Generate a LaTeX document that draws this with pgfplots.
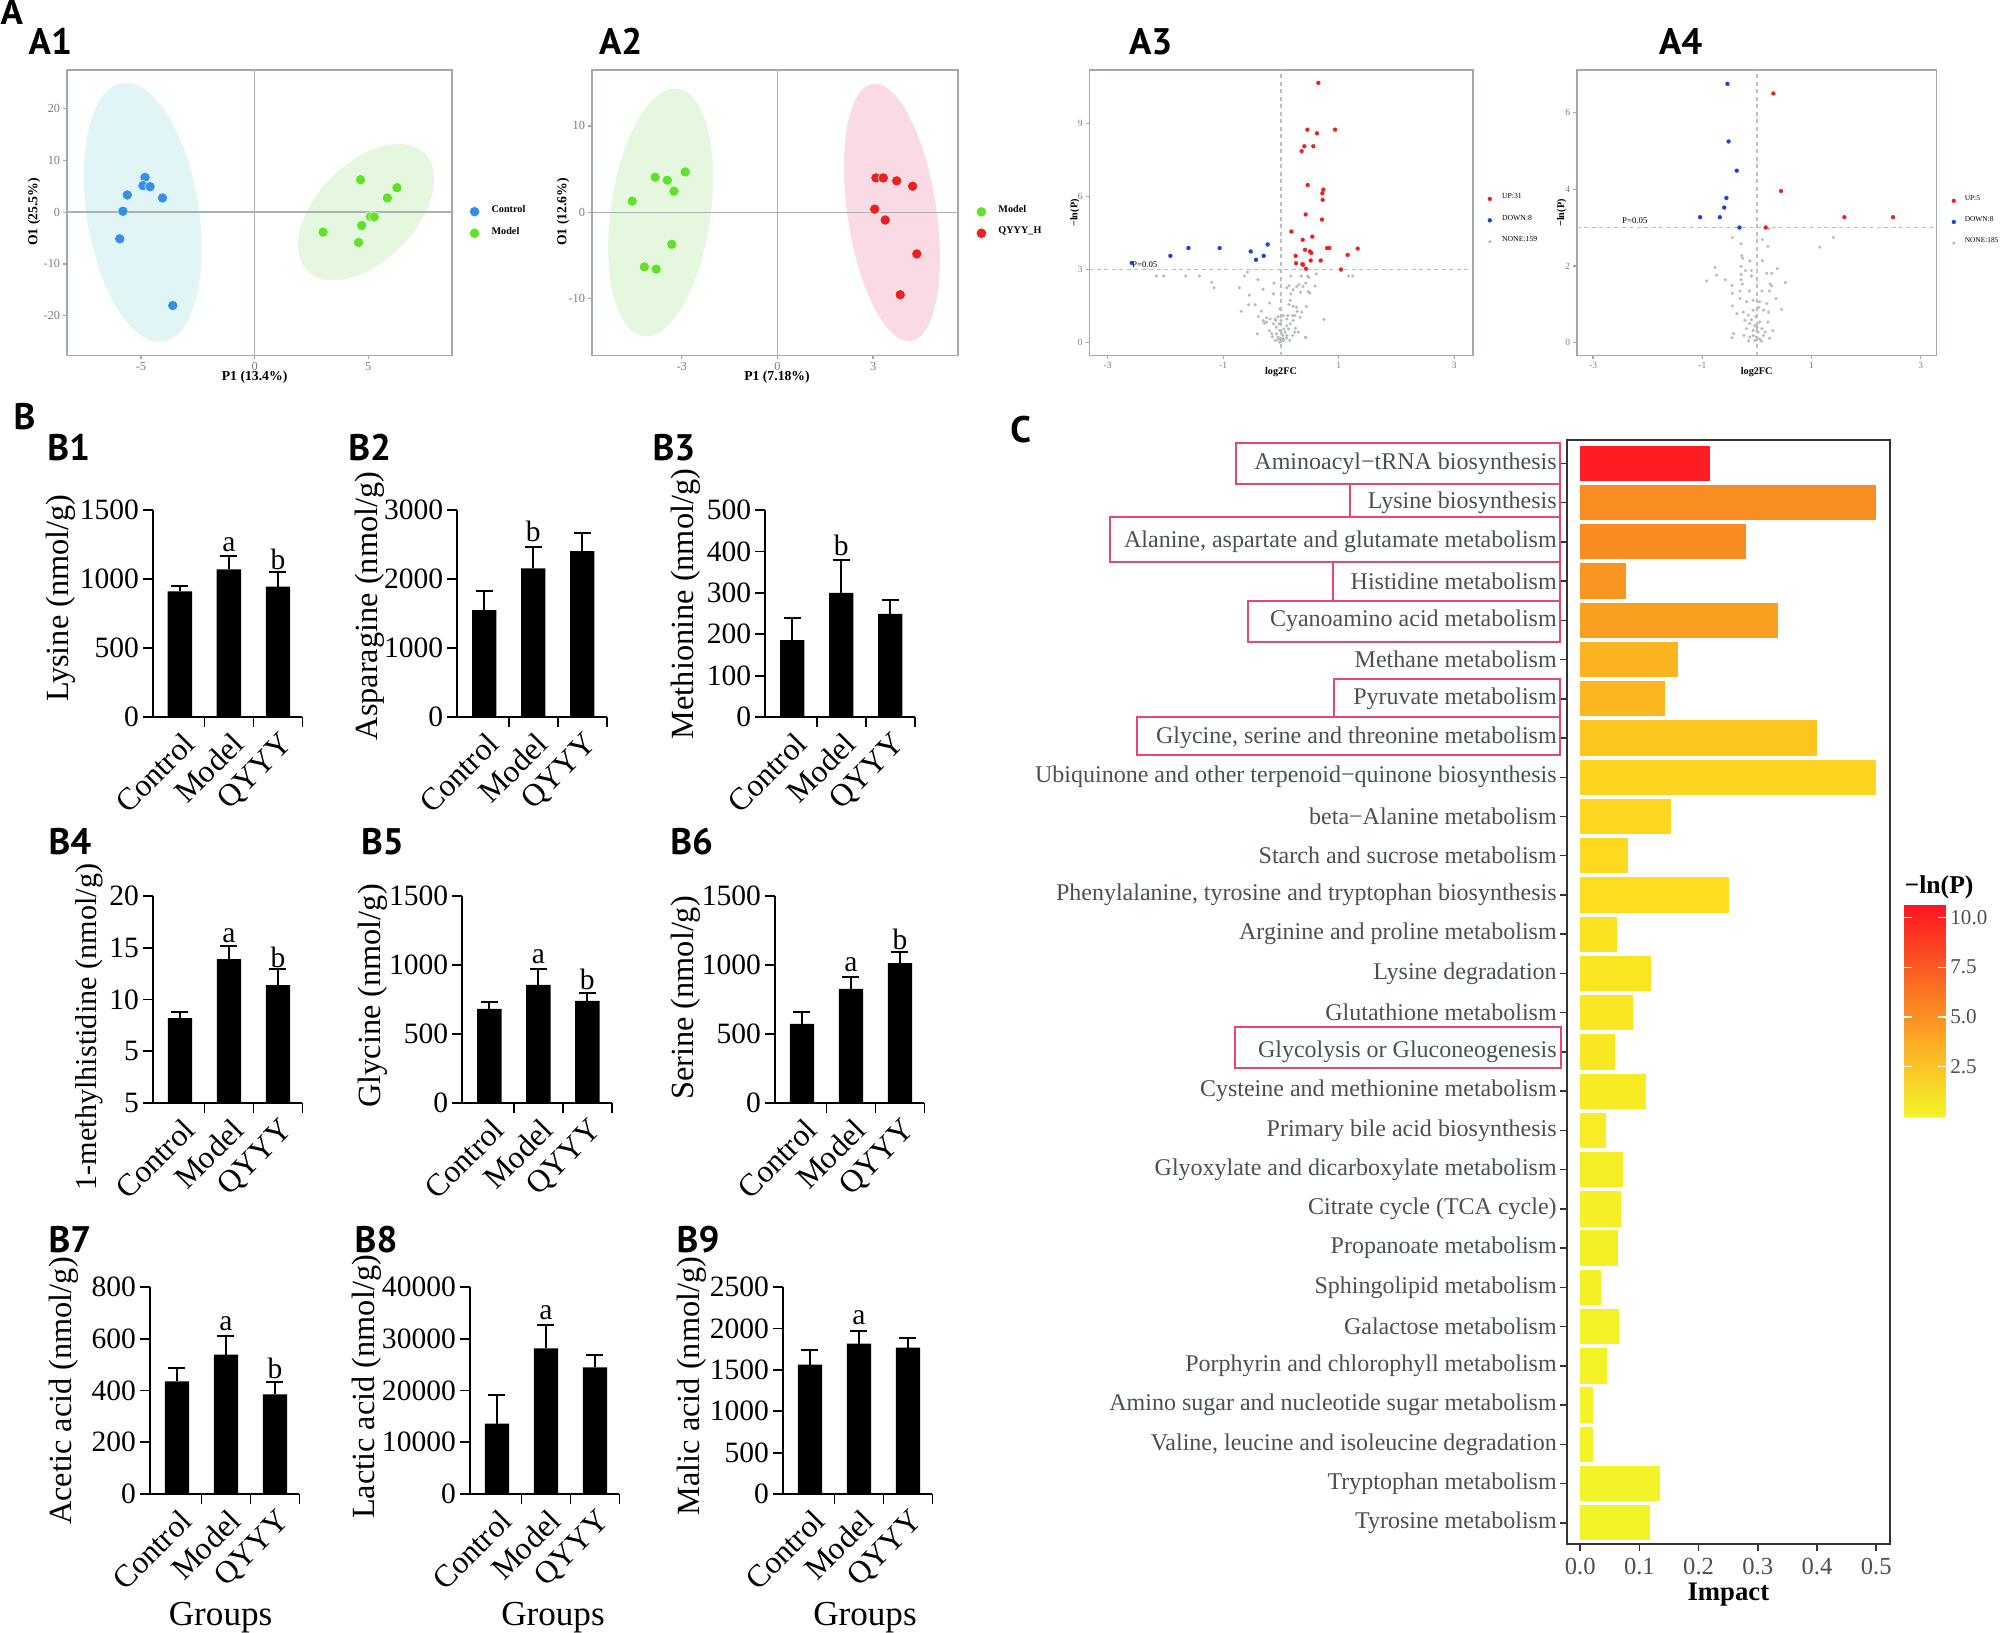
\documentclass[border=0pt]{standalone}
\usepackage{fontspec}
\setmainfont{Liberation Serif}
\newfontfamily\plfont{PT Sans}
\usepackage{pgfplots}
\pgfplotsset{compat=1.18}

\newcommand\fs[1]{\fontsize{#1}{#1}\selectfont}
\newcommand\plab[1]{{\plfont\bfseries\fs{10.5pt}#1}}

\definecolor{frgray}{RGB}{160,170,172}
\definecolor{tkgray}{RGB}{118,126,128}
\definecolor{zline}{RGB}{168,178,180}
\definecolor{dline}{RGB}{185,192,194}
\definecolor{ptblue}{RGB}{55,143,228}
\definecolor{ptgreen}{RGB}{96,226,42}
\definecolor{ptred}{RGB}{236,32,34}
\definecolor{vred}{RGB}{238,30,40}
\definecolor{vblue}{RGB}{28,62,232}
\definecolor{vgray}{RGB}{178,188,188}
\definecolor{elblue}{RGB}{226,245,246}
\definecolor{elgreen}{RGB}{229,248,223}
\definecolor{elpink}{RGB}{250,219,229}
\definecolor{cgray}{RGB}{72,80,80}
\definecolor{hlred}{RGB}{232,72,108}

\pgfplotsset{
  apanel/.style={
    scale only axis, height=28.55mm,
    axis line style={draw=frgray, line width=0.16mm},
    tick pos=left, tick align=outside,
    major tick length=0.35mm,
    tick style={draw=frgray, line width=0.12mm},
    ticklabel style={text=tkgray, inner sep=0.25mm},
    /pgf/number format/assume math mode=true,
    legend style={draw=none, fill=none, inner sep=0pt, anchor=west,
      nodes={inner sep=0pt}},
    legend cell align=left,
    legend image code/.code={\draw[##1] plot coordinates {(0mm,0mm)};},
  },
  bigpt/.style={only marks, mark=*, mark size=0.52mm,
    mark options={draw=white, line width=0.05mm, fill=#1}},
  vpt/.style={only marks, mark=*, mark size=0.2mm, color=#1,
    mark options={draw=#1, line width=0.02mm, fill=#1}},
  gpt/.style={only marks, mark=*, mark size=0.15mm, color=vgray,
    mark options={draw=vgray, line width=0.02mm, fill=vgray}},
  bpanel/.style={
    scale only axis, width=14.945mm, height=20.7mm,
    axis x line*=bottom, axis y line*=left,
    axis line style={line width=0.2mm, black},
    xmin=-0.55, xmax=2.5, ymin=0,
    xtick={0.5,1.5,2.5}, xticklabels={,,},
    extra x ticks={0,1,2}, extra x tick labels={Control,Model,QYYY},
    extra x tick style={major tick length=0pt},
    tick align=outside, major tick length=1mm,
    tick style={line width=0.18mm, black},
    xticklabel style={font=\fs{9pt}, inner sep=0pt, xshift=0.1mm, yshift=-1.3mm, rotate=45, anchor=north east},
    yticklabel style={font=\fs{8.4pt}, inner sep=0.35mm},
    /pgf/number format/assume math mode=true,
    /pgf/number format/1000 sep={},
    scaled y ticks=false,
    clip=false,
  },
  bbar/.style={ybar, bar width=2.44mm, bar shift=0pt, fill=black, draw=none,
    error bars/y dir=plus, error bars/y explicit,
    error bars/error bar style={draw=black, line width=0.2mm},
    error bars/error mark options={rotate=90, mark size=0.85mm, draw=black, line width=0.2mm}},
  cbar/.style={xbar, bar width=0.9, bar shift=0pt, draw=none},
}

\begin{document}
\begin{tikzpicture}
\path[use as bounding box] (0,0) rectangle (200.2mm,-163.3mm);

% ---------------- A1 ----------------
\begin{axis}[apanel, at={(6.68mm,-35.55mm)}, anchor=south west, width=38.5mm,
  xmin=-8.26, xmax=8.67, ymin=-27.7, ymax=27.5,
  xtick={-5,0,5}, ytick={-20,-10,0,10,20},
  ticklabel style={font=\fs{3.5pt}},
  legend style={at={(1.044,0.466)}, font=\bfseries\fs{2.9pt}, row sep=0.92mm,
    /tikz/every odd column/.append style={column sep=1.18mm}}]
\fill[elblue, rotate around={9:(axis cs:-4.92,0)}] (axis cs:-4.92,0) ellipse [x radius=5.6mm, y radius=13.1mm];
\fill[elgreen, rotate around={45:(axis cs:4.90,0)}] (axis cs:4.90,0) ellipse [x radius=8.3mm, y radius=4.9mm];
\draw[zline, line width=0.16mm] (axis cs:0,-27.7) -- (axis cs:0,27.5);
\draw[zline, line width=0.16mm] (axis cs:-8.26,0) -- (axis cs:8.67,0);
\addplot[bigpt=ptblue] coordinates {(-4.82,6.74) (-4.91,5.14) (-4.60,4.94) (-5.60,3.34) (-4.05,2.76) (-5.79,0.19) (-5.93,-5.14) (-3.60,-18.04)};
\addlegendentry{Control}
\addplot[bigpt=ptgreen] coordinates {(4.66,6.29) (6.26,4.75) (5.84,2.76) (5.10,-0.83) (5.26,-0.90) (4.71,-2.57) (3.01,-3.85) (4.57,-5.84)};
\addlegendentry{Model}
\end{axis}

% ---------------- A2 ----------------
\begin{axis}[apanel, at={(59.17mm,-35.55mm)}, anchor=south west, width=36.66mm,
  xmin=-5.82, xmax=5.67, ymin=-16.55, ymax=16.47,
  xtick={-3,0,3}, ytick={-10,0,10},
  ticklabel style={font=\fs{3.5pt}},
  legend style={at={(1.047,0.466)}, font=\bfseries\fs{2.9pt}, row sep=0.92mm,
    /tikz/every odd column/.append style={column sep=1.18mm}}]
\fill[elgreen, rotate around={-8:(axis cs:-3.66,0)}] (axis cs:-3.66,0) ellipse [x radius=5.0mm, y radius=12.5mm];
\fill[elpink, rotate around={8.5:(axis cs:3.59,0)}] (axis cs:3.59,0) ellipse [x radius=4.45mm, y radius=13.0mm];
\draw[zline, line width=0.16mm] (axis cs:0,-16.55) -- (axis cs:0,16.47);
\draw[zline, line width=0.16mm] (axis cs:-5.82,0) -- (axis cs:5.67,0);
\addplot[bigpt=ptgreen] coordinates {(-4.55,1.31) (-3.83,4.07) (-3.45,3.72) (-3.24,2.46) (-2.89,4.68) (-3.31,-3.69) (-4.17,-6.30) (-3.80,-6.56)};
\addlegendentry{Model}
\addplot[bigpt=ptred] coordinates {(3.09,3.99) (3.32,3.99) (3.74,3.65) (4.24,3.03) (3.05,0.38) (3.38,-0.88) (4.37,-4.80) (3.85,-9.52)};
\addlegendentry{QYYY\_H}
\end{axis}

% ---------------- A3 ----------------
\begin{axis}[apanel, at={(108.93mm,-35.55mm)}, anchor=south west, width=38.34mm,
  xmin=-3.32, xmax=3.32, ymin=-0.52, ymax=11.2,
  xtick={-3,-1,1,3}, ytick={0,3,6,9},
  ticklabel style={font=\fs{2.7pt}},
  reverse legend,
  legend style={at={(1.0376,0.4736)}, font=\fs{2.2pt}, row sep=1.1mm,
    /tikz/every odd column/.append style={column sep=1.02mm}}]
\draw[dline, line width=0.12mm, dash pattern=on 0.4mm off 0.35mm] (axis cs:0,-0.52) -- (axis cs:0,11.2);
\draw[dline, line width=0.12mm, dash pattern=on 0.4mm off 0.35mm] (axis cs:-3.32,3) -- (axis cs:3.32,3);
\addplot[gpt] coordinates {(-2.16,2.74) (-2.03,2.74) (-1.65,2.74) (-1.41,2.74) (-0.63,2.74) (-0.58,2.90) (0.17,2.74) (0.35,2.74) (0.46,2.74) (0.61,2.83) (1.17,2.74) (1.24,2.74) (-1.20,2.49) (-1.16,2.26) (-0.72,2.26) (-0.55,1.96) (-0.45,1.56) (-0.56,1.56) (-0.69,1.29) (-0.40,2.59) (-0.31,2.20) (-0.12,2.45) (-0.20,1.63) (-0.34,1.30) (-0.39,1.08) (-0.41,0.37) (-0.29,0.81) (-0.25,1.03) (-0.13,2.01) (-0.02,1.40) (0.10,2.26) (0.14,2.35) (0.17,2.01) (0.21,2.18) (0.27,2.31) (0.31,2.39) (0.34,2.08) (0.38,2.31) (0.43,2.45) (0.47,2.11) (0.50,2.04) (0.59,2.33) (0.44,1.49) (0.48,2.69) (0.16,1.74) (0.14,1.57) (0.21,1.50) (0.27,1.46) (0.24,1.12) (0.28,1.29) (0.12,1.12) (0.04,1.12) (-0.05,1.08) (-0.10,0.98) (-0.19,0.98) (-0.25,0.85) (-0.31,0.92) (-0.13,0.78) (-0.08,0.64) (-0.02,0.51) (0.01,0.37) (-0.05,0.23) (-0.10,0.10) (-0.02,0.03) (0.04,0.16) (0.10,0.30) (0.07,0.44) (0.13,0.57) (0.16,0.78) (0.21,0.92) (0.24,0.44) (0.30,0.44) (0.43,0.21) (0.74,0.96) (-0.16,0.37) (-0.08,0.37) (-0.01,0.16) (0.03,0.30) (0.05,0.57) (-0.03,0.78) (-0.09,0.92) (0.00,0.92) (0.10,0.98) (0.20,1.12) (0.33,1.05) (0.36,1.26) (0.42,0.23) (0.00,0.05) (0.05,0.10) (-0.05,0.15) (0.10,0.20) (0.15,0.10) (-0.15,0.25) (0.20,0.30) (-0.20,0.50) (0.25,0.60) (0.10,0.70)};
\addlegendentry{NONE:159}
\addplot[vpt=vblue] coordinates {(-2.585,3.28) (-1.916,3.57) (-1.604,3.89) (-1.062,3.89) (-0.525,3.75) (-0.433,3.41) (-0.300,3.57) (-0.231,4.04)};
\addlegendentry{DOWN:8}
\addplot[vpt=vred] coordinates {(0.646,10.67) (0.456,8.75) (0.935,8.75) (0.623,8.60) (0.404,8.07) (0.560,8.07) (0.358,7.87) (0.462,6.48) (0.733,6.29) (0.716,6.14) (0.721,5.87) (0.427,5.27) (0.710,5.06) (0.179,4.57) (0.375,4.23) (0.542,4.36) (0.415,3.82) (0.502,3.75) (0.525,3.69) (0.796,3.89) (0.837,3.89) (1.327,3.87) (1.154,3.61) (0.254,3.57) (0.687,3.38) (0.514,3.38) (0.260,3.27) (0.369,3.23) (0.381,3.20) (0.433,3.04) (1.039,3.01)};
\addlegendentry{UP:31}
\node[anchor=west, inner sep=0pt, font=\fs{2.5pt}] at (axis cs:-2.59,3.2) {P=0.05};
\end{axis}

% ---------------- A4 ----------------
\begin{axis}[apanel, at={(157.67mm,-35.55mm)}, anchor=south west, width=36.0mm,
  xmin=-3.30, xmax=3.29, ymin=-0.33, ymax=7.1,
  xtick={-3,-1,1,3}, ytick={0,2,4,6},
  ticklabel style={font=\fs{2.7pt}},
  reverse legend,
  legend style={at={(1.040,0.4676)}, font=\fs{2.1pt}, row sep=1.1mm,
    /tikz/every odd column/.append style={column sep=0.9mm}}]
\draw[dline, line width=0.12mm, dash pattern=on 0.4mm off 0.35mm] (axis cs:0,-0.33) -- (axis cs:0,7.1);
\draw[dline, line width=0.12mm, dash pattern=on 0.4mm off 0.35mm] (axis cs:-3.30,3) -- (axis cs:3.29,3);
\addplot[gpt] coordinates {(-0.45,2.74) (0.10,2.69) (0.20,2.51) (-0.29,2.58) (-0.28,2.27) (-0.26,2.20) (-0.13,2.13) (0.10,2.14) (-0.77,1.96) (-0.74,1.76) (-0.92,1.61) (-0.58,1.64) (-0.29,1.99) (-0.21,1.88) (-0.10,1.88) (-0.10,1.74) (0.18,1.81) (0.27,1.81) (0.37,1.93) (-0.29,1.78) (-0.29,1.64) (-0.27,1.53) (0.24,1.53) (0.27,1.48) (0.52,1.57) (-0.46,1.49) (-0.45,1.29) (-0.31,1.35) (-0.14,1.35) (0.09,1.35) (0.23,1.35) (0.35,1.15) (-0.45,0.96) (-0.31,1.15) (-0.19,1.07) (-0.07,1.11) (0.05,1.07) (0.18,1.02) (0.45,0.87) (-0.37,0.76) (-0.25,0.80) (-0.16,0.72) (-0.07,0.85) (0.12,0.85) (0.21,0.80) (-0.22,0.59) (-0.13,0.50) (-0.04,0.45) (0.05,0.54) (0.20,0.54) (-0.19,0.37) (-0.07,0.32) (0.02,0.28) (0.09,0.37) (-0.07,0.19) (-0.01,0.15) (0.05,0.10) (-0.04,0.06) (0.12,0.19) (0.23,0.12) (0.29,0.32) (-0.43,0.24) (-0.46,0.13) (-0.13,0.15) (-0.24,0.19) (1.40,2.74) (1.15,2.49) (0.22,2.97) (-0.10,0.60) (0.00,0.40) (0.08,0.05) (-0.15,0.05) (0.15,0.28) (-0.02,0.68) (0.03,0.92)};
\addlegendentry{NONE:185}
\addplot[vpt=vblue] coordinates {(-0.54,6.74) (-0.52,5.24) (-0.37,4.48) (-0.56,3.77) (-0.60,3.52) (-1.04,3.27) (-0.68,3.27) (-0.32,3.00)};
\addlegendentry{DOWN:8}
\addplot[vpt=vred] coordinates {(0.30,6.49) (0.44,3.95) (1.60,3.27) (2.49,3.27) (0.16,3.00)};
\addlegendentry{UP:5}
\node[anchor=west, inner sep=0pt, font=\fs{2.5pt}] at (axis cs:-2.48,3.17) {P=0.05};
\end{axis}

% A labels and axis titles
\node[anchor=base west, inner sep=0pt] at (0mm,-2.45mm) {\plab{A}};
\node[anchor=base west, inner sep=0pt] at (2.8mm,-5.4mm) {\plab{A1}};
\node[anchor=base west, inner sep=0pt] at (59.83mm,-5.4mm) {\plab{A2}};
\node[anchor=base west, inner sep=0pt] at (112.83mm,-5.4mm) {\plab{A3}};
\node[anchor=base west, inner sep=0pt] at (165.83mm,-5.4mm) {\plab{A4}};
\node[font=\bfseries\fs{3.9pt}] at (25.46mm,-37.67mm) {P1 (13.4\%)};
\node[font=\bfseries\fs{3.9pt}, rotate=90] at (3.4mm,-21.2mm) {O1 (25.5\%)};
\node[font=\bfseries\fs{3.9pt}] at (77.7mm,-37.7mm) {P1 (7.18\%)};
\node[font=\bfseries\fs{3.9pt}, rotate=90] at (56.3mm,-21.2mm) {O1 (12.6\%)};
\node[font=\bfseries\fs{2.9pt}] at (128.1mm,-37.2mm) {log2FC};
\node[font=\bfseries\fs{2.9pt}, rotate=90] at (107.5mm,-21.3mm) {−ln(P)};
\node[font=\bfseries\fs{2.9pt}] at (175.67mm,-37.2mm) {log2FC};
\node[font=\bfseries\fs{2.9pt}, rotate=90] at (156.17mm,-21.3mm) {−ln(P)};

% ---------------- B row 1 ----------------
\begin{axis}[bpanel, at={(15.3mm,-71.7mm)}, anchor=south west, ymax=1500, ytick={0,500,1000,1500}]
\addplot[bbar] coordinates {(0,910) +- (0,40) (1,1070) +- (0,95) (2,945) +- (0,105)};
\node[font=\fs{8.4pt}] at (axis cs:1,1246) {a};
\node[font=\fs{8.4pt}] at (axis cs:2,1142) {b};
\end{axis}
\begin{axis}[bpanel, at={(45.73mm,-71.7mm)}, anchor=south west, ymax=3000, ytick={0,1000,2000,3000}]
\addplot[bbar] coordinates {(0,1550) +- (0,280) (1,2155) +- (0,315) (2,2405) +- (0,265)};
\node[font=\fs{8.4pt}] at (axis cs:1,2686) {b};
\end{axis}
\begin{axis}[bpanel, at={(76.53mm,-71.7mm)}, anchor=south west, ymax=500, ytick={0,100,200,300,400,500}]
\addplot[bbar] coordinates {(0,186) +- (0,52) (1,300) +- (0,80) (2,249) +- (0,34)};
\node[font=\fs{8.4pt}] at (axis cs:1,415) {b};
\end{axis}

% ---------------- B row 2 ----------------
\begin{axis}[bpanel, at={(15.3mm,-110.3mm)}, anchor=south west, ymax=20, ytick={0,5,10,15,20}, yticklabels={5,5,10,15,20}]
\addplot[bbar] coordinates {(0,8.2) +- (0,0.55) (1,13.9) +- (0,1.3) (2,11.4) +- (0,1.55)};
\node[font=\fs{8.4pt}] at (axis cs:1,16.2) {a};
\node[font=\fs{8.4pt}] at (axis cs:2,14.1) {b};
\end{axis}
\begin{axis}[bpanel, at={(46.24mm,-110.3mm)}, anchor=south west, ymax=1500, ytick={0,500,1000,1500}]
\addplot[bbar] coordinates {(0,682) +- (0,49) (1,856) +- (0,113) (2,740) +- (0,56)};
\node[font=\fs{8.4pt}] at (axis cs:1,1061) {a};
\node[font=\fs{8.4pt}] at (axis cs:2,897) {b};
\end{axis}
\begin{axis}[bpanel, at={(77.5mm,-110.3mm)}, anchor=south west, ymax=1500, ytick={0,500,1000,1500}]
\addplot[bbar] coordinates {(0,574) +- (0,88) (1,827) +- (0,85) (2,1013) +- (0,79)};
\node[font=\fs{8.4pt}] at (axis cs:1,1001) {a};
\node[font=\fs{8.4pt}] at (axis cs:2,1182) {b};
\end{axis}

% ---------------- B row 3 ----------------
\begin{axis}[bpanel, at={(15.0mm,-149.4mm)}, anchor=south west, ymax=800, ytick={0,200,400,600,800}]
\addplot[bbar] coordinates {(0,435) +- (0,52) (1,539) +- (0,72) (2,385) +- (0,46)};
\node[font=\fs{8.4pt}] at (axis cs:1,659) {a};
\node[font=\fs{8.4pt}] at (axis cs:2,484) {b};
\end{axis}
\begin{axis}[bpanel, at={(47.0mm,-149.4mm)}, anchor=south west, ymax=40000, ytick={0,10000,20000,30000,40000}]
\addplot[bbar] coordinates {(0,13600) +- (0,5450) (1,28150) +- (0,4500) (2,24450) +- (0,2500)};
\node[font=\fs{8.4pt}] at (axis cs:1,35070) {a};
\end{axis}
\begin{axis}[bpanel, at={(78.3mm,-149.4mm)}, anchor=south west, ymax=2500, ytick={0,500,1000,1500,2000,2500}]
\addplot[bbar] coordinates {(0,1564) +- (0,176) (1,1816) +- (0,152) (2,1768) +- (0,120)};
\node[font=\fs{8.4pt}] at (axis cs:1,2132) {a};
\end{axis}

% B labels
\node[anchor=base west, inner sep=0pt] at (1.3mm,-42.9mm) {\plab{B}};
\node[anchor=base west, inner sep=0pt] at (4.67mm,-46.0mm) {\plab{B1}};
\node[anchor=base west, inner sep=0pt] at (34.76mm,-46.0mm) {\plab{B2}};
\node[anchor=base west, inner sep=0pt] at (65.18mm,-46.0mm) {\plab{B3}};
\node[anchor=base west, inner sep=0pt] at (4.78mm,-85.4mm) {\plab{B4}};
\node[anchor=base west, inner sep=0pt] at (36.03mm,-85.4mm) {\plab{B5}};
\node[anchor=base west, inner sep=0pt] at (66.96mm,-85.4mm) {\plab{B6}};
\node[anchor=base west, inner sep=0pt] at (4.78mm,-125.2mm) {\plab{B7}};
\node[anchor=base west, inner sep=0pt] at (35.4mm,-125.2mm) {\plab{B8}};
\node[anchor=base west, inner sep=0pt] at (67.6mm,-125.2mm) {\plab{B9}};
\begin{scope}[every node/.style={rotate=90, font=\fs{9.2pt}, inner sep=0pt}]
\node at (6.06mm,-59.8mm) {Lysine (nmol/g)};
\node at (37.0mm,-60.6mm) {Asparagine (nmol/g)};
\node at (68.56mm,-60.4mm) {Methionine (nmol/g)};
\node[font=\fs{8.6pt}] at (8.9mm,-102.7mm) {1-methylhistidine (nmol/g)};
\node at (37.3mm,-99.6mm) {Glycine (nmol/g)};
\node at (68.56mm,-99.8mm) {Serine (nmol/g)};
\node at (6.4mm,-139.1mm) {Acetic acid (nmol/g)};
\node at (36.7mm,-138.7mm) {Lactic acid (nmol/g)};
\node at (69.2mm,-138.6mm) {Malic acid (nmol/g)};
\end{scope}
\node[anchor=base, font=\fs{10pt}] at (22.06mm,-162.5mm) {Groups};
\node[anchor=base, font=\fs{10pt}] at (55.3mm,-162.5mm) {Groups};
\node[anchor=base, font=\fs{10pt}] at (86.5mm,-162.5mm) {Groups};

% ---------------- C ----------------
\begin{axis}[at={(156.68mm,-154.42mm)}, anchor=south west,
  scale only axis, width=32.32mm, height=110.47mm,
  xmin=-0.0226, xmax=0.5233, ymin=-0.545, ymax=27.607,
  axis line style={draw=black!80, line width=0.2mm},
  tick pos=left, tick align=outside, major tick length=0.64mm,
  tick style={draw=black!80, line width=0.15mm},
  xtick={0,0.1,0.2,0.3,0.4,0.5},
  xticklabels={0.0,0.1,0.2,0.3,0.4,0.5},
  ytick={0,...,27},
  yticklabels={Tyrosine metabolism, Tryptophan metabolism, {Valine, leucine and isoleucine degradation}, Amino sugar and nucleotide sugar metabolism, Porphyrin and chlorophyll metabolism, Galactose metabolism, Sphingolipid metabolism, Propanoate metabolism, Citrate cycle (TCA cycle), Glyoxylate and dicarboxylate metabolism, Primary bile acid biosynthesis, Cysteine and methionine metabolism, Glycolysis or Gluconeogenesis, Glutathione metabolism, Lysine degradation, Arginine and proline metabolism, {Phenylalanine, tyrosine and tryptophan biosynthesis}, Starch and sucrose metabolism, beta−Alanine metabolism, Ubiquinone and other terpenoid−quinone biosynthesis, {Glycine, serine and threonine metabolism}, Pyruvate metabolism, Methane metabolism, Cyanoamino acid metabolism, Histidine metabolism, {Alanine, aspartate and glutamate metabolism}, Lysine biosynthesis, Aminoacyl−tRNA biosynthesis},
  yticklabel style={font=\fs{6.83pt}, text=cgray, inner sep=0.3mm},
  xticklabel style={font=\fs{7pt}, text=cgray, yshift=0.5mm},
  /pgf/number format/assume math mode=true,
  colormap={lnp}{rgb255(0cm)=(240,245,40) rgb255(2.5cm)=(252,196,38) rgb255(5cm)=(250,145,35) rgb255(7.5cm)=(250,90,35) rgb255(10.65cm)=(255,20,32)},
  colorbar, point meta min=0, point meta max=10.65,
  colorbar style={
    at={(parent axis.north east)}, anchor=north west,
    xshift=-1.6mm, yshift=-46.48mm,
    scale only axis, width=4.17mm, height=21.24mm,
    axis line style={draw=none},
    ytick={2.5,5,7.5,10}, yticklabels={2.5,5.0,7.5,10.0},
    ytick pos=both, yticklabel pos=right,
    tick align=inside, major tick length=0.75mm,
    ytick style={draw=white, line width=0.12mm},
    yticklabel style={font=\fs{6pt}, text=cgray, inner sep=0.4mm},
    /pgf/number format/assume math mode=true,
  },
]
\addplot[cbar, fill={rgb,255:red,243;green,244;blue,40}] coordinates {(0.118,0)};
\addplot[cbar, fill={rgb,255:red,243;green,244;blue,40}] coordinates {(0.135,1)};
\addplot[cbar, fill={rgb,255:red,244;green,243;blue,40}] coordinates {(0.021,2)};
\addplot[cbar, fill={rgb,255:red,244;green,242;blue,39}] coordinates {(0.022,3)};
\addplot[cbar, fill={rgb,255:red,244;green,241;blue,39}] coordinates {(0.046,4)};
\addplot[cbar, fill={rgb,255:red,245;green,241;blue,39}] coordinates {(0.065,5)};
\addplot[cbar, fill={rgb,255:red,245;green,240;blue,38}] coordinates {(0.035,6)};
\addplot[cbar, fill={rgb,255:red,245;green,240;blue,38}] coordinates {(0.064,7)};
\addplot[cbar, fill={rgb,255:red,246;green,239;blue,38}] coordinates {(0.069,8)};
\addplot[cbar, fill={rgb,255:red,246;green,238;blue,37}] coordinates {(0.072,9)};
\addplot[cbar, fill={rgb,255:red,247;green,236;blue,37}] coordinates {(0.044,10)};
\addplot[cbar, fill={rgb,255:red,248;green,234;blue,36}] coordinates {(0.112,11)};
\addplot[cbar, fill={rgb,255:red,249;green,231;blue,35}] coordinates {(0.059,12)};
\addplot[cbar, fill={rgb,255:red,250;green,230;blue,34}] coordinates {(0.089,13)};
\addplot[cbar, fill={rgb,255:red,250;green,229;blue,34}] coordinates {(0.119,14)};
\addplot[cbar, fill={rgb,255:red,251;green,226;blue,33}] coordinates {(0.062,15)};
\addplot[cbar, fill={rgb,255:red,252;green,221;blue,32}] coordinates {(0.251,16)};
\addplot[cbar, fill={rgb,255:red,253;green,217;blue,31}] coordinates {(0.080,17)};
\addplot[cbar, fill={rgb,255:red,253;green,214;blue,31}] coordinates {(0.154,18)};
\addplot[cbar, fill={rgb,255:red,253;green,212;blue,31}] coordinates {(0.500,19)};
\addplot[cbar, fill={rgb,255:red,252;green,198;blue,31}] coordinates {(0.400,20)};
\addplot[cbar, fill={rgb,255:red,251;green,182;blue,32}] coordinates {(0.143,21)};
\addplot[cbar, fill={rgb,255:red,251;green,180;blue,32}] coordinates {(0.166,22)};
\addplot[cbar, fill={rgb,255:red,250;green,160;blue,33}] coordinates {(0.334,23)};
\addplot[cbar, fill={rgb,255:red,249;green,150;blue,33}] coordinates {(0.078,24)};
\addplot[cbar, fill={rgb,255:red,248;green,140;blue,33}] coordinates {(0.280,25)};
\addplot[cbar, fill={rgb,255:red,248;green,141;blue,33}] coordinates {(0.500,26)};
\addplot[cbar, fill={rgb,255:red,253;green,28;blue,34}] coordinates {(0.220,27)};
\end{axis}

\node[anchor=base west, inner sep=0pt] at (100.96mm,-44.2mm) {\plab{C}};
\node[anchor=base west, inner sep=0pt, font=\bfseries\fs{7.3pt}] at (190.4mm,-89.3mm) {−ln(P)};
\node[font=\bfseries\fs{7.6pt}] at (172.84mm,-159.5mm) {Impact};

\begin{scope}[hlred, line width=0.2mm]
\draw (123.64mm,-44.27mm) rectangle (156.04mm,-48.38mm);
\draw (134.95mm,-48.38mm) rectangle (156.04mm,-51.74mm);
\draw (111.0mm,-51.74mm) rectangle (156.04mm,-56.2mm);
\draw (133.3mm,-56.2mm) rectangle (156.04mm,-60.09mm);
\draw (124.8mm,-60.09mm) rectangle (156.04mm,-64.24mm);
\draw (133.35mm,-67.88mm) rectangle (156.04mm,-71.71mm);
\draw (113.74mm,-71.71mm) rectangle (156.04mm,-75.5mm);
\draw (123.45mm,-102.7mm) rectangle (156.1mm,-106.78mm);
\end{scope}
\end{tikzpicture}
\end{document}
